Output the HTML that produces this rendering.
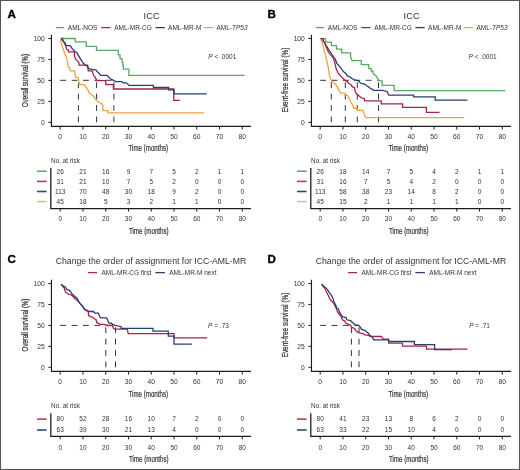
<!DOCTYPE html>
<html><head><meta charset="utf-8"><title>Figure</title>
<style>
html,body{margin:0;padding:0;background:#fff;}
body{width:520px;height:470px;overflow:hidden;position:relative;}
.frame{position:absolute;left:0;top:0;width:520px;height:470px;box-sizing:border-box;border:1px solid #555;}
svg{display:block;font-family:"Liberation Sans", sans-serif;filter:blur(0.3px);}
</style></head>
<body>
<svg width="520" height="470" viewBox="0 0 520 470">
<rect x="0" y="0" width="520" height="470" fill="#fff"/>
<g transform="translate(0,0)">
<text x="7.45" y="17.6" font-size="11.6" font-weight="bold" fill="#000" stroke="#000" stroke-width="0.35">A</text>
<text x="151.7" y="18.75" font-size="9.4" text-anchor="middle" fill="#333">ICC</text>
<line x1="55.8" y1="27.6" x2="64.0" y2="27.6" stroke="#5aa862" stroke-width="1.3"/>
<text x="67.8" y="29.9" font-size="6.5" fill="#333">AML-NOS</text>
<line x1="101.3" y1="27.6" x2="110.4" y2="27.6" stroke="#a82345" stroke-width="1.3"/>
<text x="114.2" y="29.9" font-size="6.5" fill="#333">AML-MR-CG</text>
<line x1="155.4" y1="27.6" x2="164.7" y2="27.6" stroke="#2a3f70" stroke-width="1.3"/>
<text x="168.1" y="29.9" font-size="6.5" fill="#333">AML-MR-M</text>
<line x1="203.8" y1="27.6" x2="213.1" y2="27.6" stroke="#e9a446" stroke-width="1.3"/>
<text x="216.5" y="29.9" font-size="6.5" fill="#333">AML-<tspan font-style="italic">TP53</tspan></text>
<path d="M51.45 34.8 V126.4 H251.1" fill="none" stroke="#1e1e1e" stroke-width="1.15"/>
<line x1="48.3" y1="38.50" x2="51.4" y2="38.50" stroke="#1e1e1e" stroke-width="1"/>
<text x="44.80" y="40.90" font-size="6.7" text-anchor="end" fill="#333">100</text>
<line x1="48.3" y1="59.45" x2="51.4" y2="59.45" stroke="#1e1e1e" stroke-width="1"/>
<text x="44.80" y="61.85" font-size="6.7" text-anchor="end" fill="#333">75</text>
<line x1="48.3" y1="80.40" x2="51.4" y2="80.40" stroke="#1e1e1e" stroke-width="1"/>
<text x="44.80" y="82.80" font-size="6.7" text-anchor="end" fill="#333">50</text>
<line x1="48.3" y1="101.35" x2="51.4" y2="101.35" stroke="#1e1e1e" stroke-width="1"/>
<text x="44.80" y="103.75" font-size="6.7" text-anchor="end" fill="#333">25</text>
<line x1="48.3" y1="122.30" x2="51.4" y2="122.30" stroke="#1e1e1e" stroke-width="1"/>
<text x="44.80" y="124.70" font-size="6.7" text-anchor="end" fill="#333">0</text>
<line x1="60.20" y1="126.4" x2="60.20" y2="129.6" stroke="#1e1e1e" stroke-width="1"/>
<text x="60.20" y="138.80" font-size="6.7" text-anchor="middle" fill="#333">0</text>
<line x1="82.96" y1="126.4" x2="82.96" y2="129.6" stroke="#1e1e1e" stroke-width="1"/>
<text x="82.96" y="138.80" font-size="6.7" text-anchor="middle" fill="#333">10</text>
<line x1="105.72" y1="126.4" x2="105.72" y2="129.6" stroke="#1e1e1e" stroke-width="1"/>
<text x="105.72" y="138.80" font-size="6.7" text-anchor="middle" fill="#333">20</text>
<line x1="128.48" y1="126.4" x2="128.48" y2="129.6" stroke="#1e1e1e" stroke-width="1"/>
<text x="128.48" y="138.80" font-size="6.7" text-anchor="middle" fill="#333">30</text>
<line x1="151.24" y1="126.4" x2="151.24" y2="129.6" stroke="#1e1e1e" stroke-width="1"/>
<text x="151.24" y="138.80" font-size="6.7" text-anchor="middle" fill="#333">40</text>
<line x1="174.00" y1="126.4" x2="174.00" y2="129.6" stroke="#1e1e1e" stroke-width="1"/>
<text x="174.00" y="138.80" font-size="6.7" text-anchor="middle" fill="#333">50</text>
<line x1="196.76" y1="126.4" x2="196.76" y2="129.6" stroke="#1e1e1e" stroke-width="1"/>
<text x="196.76" y="138.80" font-size="6.7" text-anchor="middle" fill="#333">60</text>
<line x1="219.52" y1="126.4" x2="219.52" y2="129.6" stroke="#1e1e1e" stroke-width="1"/>
<text x="219.52" y="138.80" font-size="6.7" text-anchor="middle" fill="#333">70</text>
<line x1="242.28" y1="126.4" x2="242.28" y2="129.6" stroke="#1e1e1e" stroke-width="1"/>
<text x="242.28" y="138.80" font-size="6.7" text-anchor="middle" fill="#333">80</text>
<text x="148.3" y="151.4" font-size="8.6" text-anchor="middle" textLength="39.5" lengthAdjust="spacingAndGlyphs" fill="#333" stroke="#333" stroke-width="0.2">Time (months)</text>
<text transform="translate(27.8,80.5) rotate(-90)" x="0" y="0" font-size="8.2" text-anchor="middle" textLength="53" lengthAdjust="spacingAndGlyphs" fill="#333" stroke="#333" stroke-width="0.22">Overall survival (%)</text>
<text x="208.3" y="58.5" font-size="6.5" fill="#333"><tspan font-style="italic">P</tspan> &lt; .0001</text>
<path d="M60.2 80.3 H113.9" fill="none" stroke="#333" stroke-width="1" stroke-dasharray="5.8 5.6"/>
<path d="M78.4 122.3 V80.3" fill="none" stroke="#333" stroke-width="1" stroke-dasharray="5.8 5.6"/>
<path d="M96.6 122.3 V80.3" fill="none" stroke="#333" stroke-width="1" stroke-dasharray="5.8 5.6"/>
<path d="M113.9 122.3 V80.3" fill="none" stroke="#333" stroke-width="1" stroke-dasharray="5.8 5.6"/>
<path d="M61.3 38.5 H75.3 V41.9 H86.2 V46.3 H96.5 V50.4 H118.3 V54.8 H120 V58.6 H122.1 V62 H122.8 V65.6 H123.4 V69.2 H128.9 V75.3 H244.6" fill="none" stroke="#5aa862" stroke-width="1.3" stroke-linejoin="miter"/>
<path d="M61.3 38.5 L63.5 41.5 L65.7 45.7 L66.7 49.3 L68 49.6 L68.6 51.8 H74.4 V55.3 L75 57.5 L75.6 59.1 L76.9 60.4 L78.2 62 L79.1 62.7 V65.2 H87.6 L88.2 70.8 H92.3 L93 73.4 L93.9 76 L95.2 77.2 L96.2 79.1 L96.5 80.7 H105.7 V84.6 H113.4 V89 H173.8 V100.3 H179.8" fill="none" stroke="#a82345" stroke-width="1.3" stroke-linejoin="miter"/>
<path d="M61.3 38.5 H62.6 V40.6 L64.8 42.6 L66.1 45.7 H70.2 L72.4 48.9 L75.3 51.8 L76.9 52.8 L79.1 56.6 L81.4 60.4 L83.3 63.3 L85.5 65.2 L87.6 66.4 L88.8 68.6 L92 69.3 L95.8 69.9 L97.4 71.8 L99.4 73.7 L100.6 75.3 H107 L108.9 77.2 L110.2 78.8 L112.6 79.9 L115.7 81.6 H121.5 L123.5 82.8 H126.4 L129.2 85.4 H153.4 V87.5 H168.6 V89.8 H174 V93.9 H206.7" fill="none" stroke="#2a3f70" stroke-width="1.3" stroke-linejoin="miter"/>
<path d="M60.6 38.5 V42 L61.6 43.2 L62.9 48.3 L64.5 52.8 L66.4 56.6 L67.3 61.1 L68.1 66.8 L69.7 67.7 L70.3 70.9 H74.8 L75.4 77 L78 77.6 L78.9 80.5 L79.2 84.7 H84.3 L86 87 L87.9 89.8 L89.2 93 L92.4 94.9 L94.6 97.8 L96.2 100 L97.8 101.6 L100.7 103.2 L102.6 104.5 L103.2 110.7 H107.9 V112.9 H204.2" fill="none" stroke="#e9a446" stroke-width="1.3" stroke-linejoin="miter"/>
<text x="51.1" y="162.5" font-size="6.4" fill="#333">No. at risk</text>
<path d="M50.8 168 V208.6 H251" fill="none" stroke="#1e1e1e" stroke-width="1.3"/>
<line x1="37" y1="171.20" x2="46.6" y2="171.20" stroke="#6ba76b" stroke-width="1.6"/>
<text x="60.20" y="173.50" font-size="6.5" text-anchor="middle" fill="#333">26</text>
<text x="82.96" y="173.50" font-size="6.5" text-anchor="middle" fill="#333">21</text>
<text x="105.72" y="173.50" font-size="6.5" text-anchor="middle" fill="#333">16</text>
<text x="128.48" y="173.50" font-size="6.5" text-anchor="middle" fill="#333">9</text>
<text x="151.24" y="173.50" font-size="6.5" text-anchor="middle" fill="#333">7</text>
<text x="174.00" y="173.50" font-size="6.5" text-anchor="middle" fill="#333">5</text>
<text x="196.76" y="173.50" font-size="6.5" text-anchor="middle" fill="#333">2</text>
<text x="219.52" y="173.50" font-size="6.5" text-anchor="middle" fill="#333">1</text>
<text x="242.28" y="173.50" font-size="6.5" text-anchor="middle" fill="#333">1</text>
<line x1="37" y1="181.40" x2="46.6" y2="181.40" stroke="#b0405c" stroke-width="1.6"/>
<text x="60.20" y="183.70" font-size="6.5" text-anchor="middle" fill="#333">31</text>
<text x="82.96" y="183.70" font-size="6.5" text-anchor="middle" fill="#333">21</text>
<text x="105.72" y="183.70" font-size="6.5" text-anchor="middle" fill="#333">10</text>
<text x="128.48" y="183.70" font-size="6.5" text-anchor="middle" fill="#333">7</text>
<text x="151.24" y="183.70" font-size="6.5" text-anchor="middle" fill="#333">5</text>
<text x="174.00" y="183.70" font-size="6.5" text-anchor="middle" fill="#333">2</text>
<text x="196.76" y="183.70" font-size="6.5" text-anchor="middle" fill="#333">0</text>
<text x="219.52" y="183.70" font-size="6.5" text-anchor="middle" fill="#333">0</text>
<text x="242.28" y="183.70" font-size="6.5" text-anchor="middle" fill="#333">0</text>
<line x1="37" y1="191.50" x2="46.6" y2="191.50" stroke="#2e4a72" stroke-width="1.6"/>
<text x="60.20" y="193.80" font-size="6.5" text-anchor="middle" fill="#333">113</text>
<text x="82.96" y="193.80" font-size="6.5" text-anchor="middle" fill="#333">70</text>
<text x="105.72" y="193.80" font-size="6.5" text-anchor="middle" fill="#333">48</text>
<text x="128.48" y="193.80" font-size="6.5" text-anchor="middle" fill="#333">30</text>
<text x="151.24" y="193.80" font-size="6.5" text-anchor="middle" fill="#333">18</text>
<text x="174.00" y="193.80" font-size="6.5" text-anchor="middle" fill="#333">9</text>
<text x="196.76" y="193.80" font-size="6.5" text-anchor="middle" fill="#333">2</text>
<text x="219.52" y="193.80" font-size="6.5" text-anchor="middle" fill="#333">0</text>
<text x="242.28" y="193.80" font-size="6.5" text-anchor="middle" fill="#333">0</text>
<line x1="37" y1="201.60" x2="46.6" y2="201.60" stroke="#e6bb86" stroke-width="1.6"/>
<text x="60.20" y="203.90" font-size="6.5" text-anchor="middle" fill="#333">45</text>
<text x="82.96" y="203.90" font-size="6.5" text-anchor="middle" fill="#333">18</text>
<text x="105.72" y="203.90" font-size="6.5" text-anchor="middle" fill="#333">5</text>
<text x="128.48" y="203.90" font-size="6.5" text-anchor="middle" fill="#333">3</text>
<text x="151.24" y="203.90" font-size="6.5" text-anchor="middle" fill="#333">2</text>
<text x="174.00" y="203.90" font-size="6.5" text-anchor="middle" fill="#333">1</text>
<text x="196.76" y="203.90" font-size="6.5" text-anchor="middle" fill="#333">1</text>
<text x="219.52" y="203.90" font-size="6.5" text-anchor="middle" fill="#333">0</text>
<text x="242.28" y="203.90" font-size="6.5" text-anchor="middle" fill="#333">0</text>
<line x1="60.20" y1="208.6" x2="60.20" y2="211.60" stroke="#1e1e1e" stroke-width="1"/>
<text x="60.20" y="221.10" font-size="6.5" text-anchor="middle" fill="#333">0</text>
<line x1="82.96" y1="208.6" x2="82.96" y2="211.60" stroke="#1e1e1e" stroke-width="1"/>
<text x="82.96" y="221.10" font-size="6.5" text-anchor="middle" fill="#333">10</text>
<line x1="105.72" y1="208.6" x2="105.72" y2="211.60" stroke="#1e1e1e" stroke-width="1"/>
<text x="105.72" y="221.10" font-size="6.5" text-anchor="middle" fill="#333">20</text>
<line x1="128.48" y1="208.6" x2="128.48" y2="211.60" stroke="#1e1e1e" stroke-width="1"/>
<text x="128.48" y="221.10" font-size="6.5" text-anchor="middle" fill="#333">30</text>
<line x1="151.24" y1="208.6" x2="151.24" y2="211.60" stroke="#1e1e1e" stroke-width="1"/>
<text x="151.24" y="221.10" font-size="6.5" text-anchor="middle" fill="#333">40</text>
<line x1="174.00" y1="208.6" x2="174.00" y2="211.60" stroke="#1e1e1e" stroke-width="1"/>
<text x="174.00" y="221.10" font-size="6.5" text-anchor="middle" fill="#333">50</text>
<line x1="196.76" y1="208.6" x2="196.76" y2="211.60" stroke="#1e1e1e" stroke-width="1"/>
<text x="196.76" y="221.10" font-size="6.5" text-anchor="middle" fill="#333">60</text>
<line x1="219.52" y1="208.6" x2="219.52" y2="211.60" stroke="#1e1e1e" stroke-width="1"/>
<text x="219.52" y="221.10" font-size="6.5" text-anchor="middle" fill="#333">70</text>
<line x1="242.28" y1="208.6" x2="242.28" y2="211.60" stroke="#1e1e1e" stroke-width="1"/>
<text x="242.28" y="221.10" font-size="6.5" text-anchor="middle" fill="#333">80</text>
<text x="148.8" y="233.9" font-size="8.6" text-anchor="middle" textLength="39.8" lengthAdjust="spacingAndGlyphs" fill="#333" stroke="#333" stroke-width="0.2">Time (months)</text>
</g>
<g transform="translate(260,0)">
<text x="7.45" y="17.6" font-size="11.6" font-weight="bold" fill="#000" stroke="#000" stroke-width="0.35">B</text>
<text x="151.7" y="18.75" font-size="9.4" text-anchor="middle" fill="#333">ICC</text>
<line x1="55.8" y1="27.6" x2="64.0" y2="27.6" stroke="#5aa862" stroke-width="1.3"/>
<text x="67.8" y="29.9" font-size="6.5" fill="#333">AML-NOS</text>
<line x1="101.3" y1="27.6" x2="110.4" y2="27.6" stroke="#a82345" stroke-width="1.3"/>
<text x="114.2" y="29.9" font-size="6.5" fill="#333">AML-MR-CG</text>
<line x1="155.4" y1="27.6" x2="164.7" y2="27.6" stroke="#2a3f70" stroke-width="1.3"/>
<text x="168.1" y="29.9" font-size="6.5" fill="#333">AML-MR-M</text>
<line x1="203.8" y1="27.6" x2="213.1" y2="27.6" stroke="#e9a446" stroke-width="1.3"/>
<text x="216.5" y="29.9" font-size="6.5" fill="#333">AML-<tspan font-style="italic">TP53</tspan></text>
<path d="M51.45 34.8 V126.4 H251.1" fill="none" stroke="#1e1e1e" stroke-width="1.15"/>
<line x1="48.3" y1="38.50" x2="51.4" y2="38.50" stroke="#1e1e1e" stroke-width="1"/>
<text x="44.80" y="40.90" font-size="6.7" text-anchor="end" fill="#333">100</text>
<line x1="48.3" y1="59.45" x2="51.4" y2="59.45" stroke="#1e1e1e" stroke-width="1"/>
<text x="44.80" y="61.85" font-size="6.7" text-anchor="end" fill="#333">75</text>
<line x1="48.3" y1="80.40" x2="51.4" y2="80.40" stroke="#1e1e1e" stroke-width="1"/>
<text x="44.80" y="82.80" font-size="6.7" text-anchor="end" fill="#333">50</text>
<line x1="48.3" y1="101.35" x2="51.4" y2="101.35" stroke="#1e1e1e" stroke-width="1"/>
<text x="44.80" y="103.75" font-size="6.7" text-anchor="end" fill="#333">25</text>
<line x1="48.3" y1="122.30" x2="51.4" y2="122.30" stroke="#1e1e1e" stroke-width="1"/>
<text x="44.80" y="124.70" font-size="6.7" text-anchor="end" fill="#333">0</text>
<line x1="60.20" y1="126.4" x2="60.20" y2="129.6" stroke="#1e1e1e" stroke-width="1"/>
<text x="60.20" y="138.80" font-size="6.7" text-anchor="middle" fill="#333">0</text>
<line x1="82.96" y1="126.4" x2="82.96" y2="129.6" stroke="#1e1e1e" stroke-width="1"/>
<text x="82.96" y="138.80" font-size="6.7" text-anchor="middle" fill="#333">10</text>
<line x1="105.72" y1="126.4" x2="105.72" y2="129.6" stroke="#1e1e1e" stroke-width="1"/>
<text x="105.72" y="138.80" font-size="6.7" text-anchor="middle" fill="#333">20</text>
<line x1="128.48" y1="126.4" x2="128.48" y2="129.6" stroke="#1e1e1e" stroke-width="1"/>
<text x="128.48" y="138.80" font-size="6.7" text-anchor="middle" fill="#333">30</text>
<line x1="151.24" y1="126.4" x2="151.24" y2="129.6" stroke="#1e1e1e" stroke-width="1"/>
<text x="151.24" y="138.80" font-size="6.7" text-anchor="middle" fill="#333">40</text>
<line x1="174.00" y1="126.4" x2="174.00" y2="129.6" stroke="#1e1e1e" stroke-width="1"/>
<text x="174.00" y="138.80" font-size="6.7" text-anchor="middle" fill="#333">50</text>
<line x1="196.76" y1="126.4" x2="196.76" y2="129.6" stroke="#1e1e1e" stroke-width="1"/>
<text x="196.76" y="138.80" font-size="6.7" text-anchor="middle" fill="#333">60</text>
<line x1="219.52" y1="126.4" x2="219.52" y2="129.6" stroke="#1e1e1e" stroke-width="1"/>
<text x="219.52" y="138.80" font-size="6.7" text-anchor="middle" fill="#333">70</text>
<line x1="242.28" y1="126.4" x2="242.28" y2="129.6" stroke="#1e1e1e" stroke-width="1"/>
<text x="242.28" y="138.80" font-size="6.7" text-anchor="middle" fill="#333">80</text>
<text x="148.3" y="151.4" font-size="8.6" text-anchor="middle" textLength="39.5" lengthAdjust="spacingAndGlyphs" fill="#333" stroke="#333" stroke-width="0.2">Time (months)</text>
<text transform="translate(27.9,80.0) rotate(-90)" x="0" y="0" font-size="8.2" text-anchor="middle" textLength="64.7" lengthAdjust="spacingAndGlyphs" fill="#333" stroke="#333" stroke-width="0.22">Event-free survival (%)</text>
<text x="208.6" y="58.5" font-size="6.5" fill="#333"><tspan font-style="italic">P</tspan> &lt; .0001</text>
<path d="M60.2 80.3 H118.5" fill="none" stroke="#333" stroke-width="1" stroke-dasharray="5.8 5.6"/>
<path d="M71.3 122.3 V80.3" fill="none" stroke="#333" stroke-width="1" stroke-dasharray="5.8 5.6"/>
<path d="M85.3 122.3 V80.3" fill="none" stroke="#333" stroke-width="1" stroke-dasharray="5.8 5.6"/>
<path d="M97.3 122.3 V80.3" fill="none" stroke="#333" stroke-width="1" stroke-dasharray="5.8 5.6"/>
<path d="M118.5 122.3 V80.3" fill="none" stroke="#333" stroke-width="1" stroke-dasharray="5.8 5.6"/>
<path d="M60.5 38.6 H65.5 V42.1 H71.4 V45.6 H76.5 V49.1 H81.7 V52.8 H90.6 V57.1 L92.1 60.6 H101.3 V64.6 H108.8 V68.7 H111.2 V71 H112.9 V73.3 L116.3 76.2 L117.5 78.5 L119.2 80.8 H122.1 V85.4 H134.2 V90.7 H245.2" fill="none" stroke="#5aa862" stroke-width="1.3" stroke-linejoin="miter"/>
<path d="M60.5 38.6 H63 L63.4 41.1 L66 45 L69 50 L72 54.5 L75.5 59.5 L76.7 63.2 L79.6 66.4 L81.9 69.6 L84 72.1 L86 73.7 L87.2 76 L89.4 76.6 L92 78.5 L94.4 79.9 L98.2 80.5 L100.1 82.8 L101.4 83.4 L104.6 84 L107.1 86 L109.1 87.2 L110.3 88.5 L112.3 89.1 L113.5 90.4 H122.7 L127.3 91.7 L128.7 95.2 H153.6 V96.9 H175.2 V100.2 H207.5" fill="none" stroke="#2a3f70" stroke-width="1.3" stroke-linejoin="miter"/>
<path d="M60.5 38.6 L62 40 L64.4 42.4 L66.9 48.8 L68.8 52.6 L70.8 55.1 L72.7 57.1 L74.6 61.5 L75.2 64.5 L76 68.3 L77.2 71 L78 72.8 L79.6 74.7 L80.7 76.2 L82 77.2 L83.3 78.8 L85 80.4 L86.9 81.1 L88.2 83 L90.1 84.3 L91.5 85.3 L92.5 86.9 L94.4 87.5 L95.3 91.7 L96.3 93.9 L98.2 95.2 L100.1 96.8 L102 98.1 L104.3 98.4 L104.6 100.9 H121.2 V103.9 H142.6 V107.3 H166.4 V112.4 H179.5" fill="none" stroke="#a82345" stroke-width="1.3" stroke-linejoin="miter"/>
<path d="M60.5 38.6 V39.5 L61.2 39.5 L63.1 45.6 L64.4 52 L66 57.1 L67.3 62.8 L68.4 68.3 L69.3 74.7 L70.6 79.1 L71.6 81.1 L74.4 83 L76.5 85.5 L77.6 87.6 L79.4 91.3 L80.9 93.2 H84.7 L86.3 95.1 L88.2 95.9 L90.1 100.8 L92.4 104.7 L93.9 108.5 H97 L97.7 110.4 H103.1 L104.2 114.6 L105.4 116.9 L106 117.6 H204.3" fill="none" stroke="#e9a446" stroke-width="1.3" stroke-linejoin="miter"/>
<text x="51.1" y="162.5" font-size="6.4" fill="#333">No. at risk</text>
<path d="M50.8 168 V208.6 H251" fill="none" stroke="#1e1e1e" stroke-width="1.3"/>
<line x1="37" y1="171.20" x2="46.6" y2="171.20" stroke="#6ba76b" stroke-width="1.6"/>
<text x="60.20" y="173.50" font-size="6.5" text-anchor="middle" fill="#333">26</text>
<text x="82.96" y="173.50" font-size="6.5" text-anchor="middle" fill="#333">18</text>
<text x="105.72" y="173.50" font-size="6.5" text-anchor="middle" fill="#333">14</text>
<text x="128.48" y="173.50" font-size="6.5" text-anchor="middle" fill="#333">7</text>
<text x="151.24" y="173.50" font-size="6.5" text-anchor="middle" fill="#333">5</text>
<text x="174.00" y="173.50" font-size="6.5" text-anchor="middle" fill="#333">4</text>
<text x="196.76" y="173.50" font-size="6.5" text-anchor="middle" fill="#333">2</text>
<text x="219.52" y="173.50" font-size="6.5" text-anchor="middle" fill="#333">1</text>
<text x="242.28" y="173.50" font-size="6.5" text-anchor="middle" fill="#333">1</text>
<line x1="37" y1="181.40" x2="46.6" y2="181.40" stroke="#b0405c" stroke-width="1.6"/>
<text x="60.20" y="183.70" font-size="6.5" text-anchor="middle" fill="#333">31</text>
<text x="82.96" y="183.70" font-size="6.5" text-anchor="middle" fill="#333">16</text>
<text x="105.72" y="183.70" font-size="6.5" text-anchor="middle" fill="#333">7</text>
<text x="128.48" y="183.70" font-size="6.5" text-anchor="middle" fill="#333">5</text>
<text x="151.24" y="183.70" font-size="6.5" text-anchor="middle" fill="#333">4</text>
<text x="174.00" y="183.70" font-size="6.5" text-anchor="middle" fill="#333">2</text>
<text x="196.76" y="183.70" font-size="6.5" text-anchor="middle" fill="#333">0</text>
<text x="219.52" y="183.70" font-size="6.5" text-anchor="middle" fill="#333">0</text>
<text x="242.28" y="183.70" font-size="6.5" text-anchor="middle" fill="#333">0</text>
<line x1="37" y1="191.50" x2="46.6" y2="191.50" stroke="#2e4a72" stroke-width="1.6"/>
<text x="60.20" y="193.80" font-size="6.5" text-anchor="middle" fill="#333">113</text>
<text x="82.96" y="193.80" font-size="6.5" text-anchor="middle" fill="#333">58</text>
<text x="105.72" y="193.80" font-size="6.5" text-anchor="middle" fill="#333">38</text>
<text x="128.48" y="193.80" font-size="6.5" text-anchor="middle" fill="#333">23</text>
<text x="151.24" y="193.80" font-size="6.5" text-anchor="middle" fill="#333">14</text>
<text x="174.00" y="193.80" font-size="6.5" text-anchor="middle" fill="#333">8</text>
<text x="196.76" y="193.80" font-size="6.5" text-anchor="middle" fill="#333">2</text>
<text x="219.52" y="193.80" font-size="6.5" text-anchor="middle" fill="#333">0</text>
<text x="242.28" y="193.80" font-size="6.5" text-anchor="middle" fill="#333">0</text>
<line x1="37" y1="201.60" x2="46.6" y2="201.60" stroke="#e6bb86" stroke-width="1.6"/>
<text x="60.20" y="203.90" font-size="6.5" text-anchor="middle" fill="#333">45</text>
<text x="82.96" y="203.90" font-size="6.5" text-anchor="middle" fill="#333">15</text>
<text x="105.72" y="203.90" font-size="6.5" text-anchor="middle" fill="#333">2</text>
<text x="128.48" y="203.90" font-size="6.5" text-anchor="middle" fill="#333">1</text>
<text x="151.24" y="203.90" font-size="6.5" text-anchor="middle" fill="#333">1</text>
<text x="174.00" y="203.90" font-size="6.5" text-anchor="middle" fill="#333">1</text>
<text x="196.76" y="203.90" font-size="6.5" text-anchor="middle" fill="#333">1</text>
<text x="219.52" y="203.90" font-size="6.5" text-anchor="middle" fill="#333">0</text>
<text x="242.28" y="203.90" font-size="6.5" text-anchor="middle" fill="#333">0</text>
<line x1="60.20" y1="208.6" x2="60.20" y2="211.60" stroke="#1e1e1e" stroke-width="1"/>
<text x="60.20" y="221.10" font-size="6.5" text-anchor="middle" fill="#333">0</text>
<line x1="82.96" y1="208.6" x2="82.96" y2="211.60" stroke="#1e1e1e" stroke-width="1"/>
<text x="82.96" y="221.10" font-size="6.5" text-anchor="middle" fill="#333">10</text>
<line x1="105.72" y1="208.6" x2="105.72" y2="211.60" stroke="#1e1e1e" stroke-width="1"/>
<text x="105.72" y="221.10" font-size="6.5" text-anchor="middle" fill="#333">20</text>
<line x1="128.48" y1="208.6" x2="128.48" y2="211.60" stroke="#1e1e1e" stroke-width="1"/>
<text x="128.48" y="221.10" font-size="6.5" text-anchor="middle" fill="#333">30</text>
<line x1="151.24" y1="208.6" x2="151.24" y2="211.60" stroke="#1e1e1e" stroke-width="1"/>
<text x="151.24" y="221.10" font-size="6.5" text-anchor="middle" fill="#333">40</text>
<line x1="174.00" y1="208.6" x2="174.00" y2="211.60" stroke="#1e1e1e" stroke-width="1"/>
<text x="174.00" y="221.10" font-size="6.5" text-anchor="middle" fill="#333">50</text>
<line x1="196.76" y1="208.6" x2="196.76" y2="211.60" stroke="#1e1e1e" stroke-width="1"/>
<text x="196.76" y="221.10" font-size="6.5" text-anchor="middle" fill="#333">60</text>
<line x1="219.52" y1="208.6" x2="219.52" y2="211.60" stroke="#1e1e1e" stroke-width="1"/>
<text x="219.52" y="221.10" font-size="6.5" text-anchor="middle" fill="#333">70</text>
<line x1="242.28" y1="208.6" x2="242.28" y2="211.60" stroke="#1e1e1e" stroke-width="1"/>
<text x="242.28" y="221.10" font-size="6.5" text-anchor="middle" fill="#333">80</text>
<text x="148.8" y="233.9" font-size="8.6" text-anchor="middle" textLength="39.8" lengthAdjust="spacingAndGlyphs" fill="#333" stroke="#333" stroke-width="0.2">Time (months)</text>
</g>
<g transform="translate(0,245)">
<text x="7.45" y="17.6" font-size="11.6" font-weight="bold" fill="#000" stroke="#000" stroke-width="0.35">C</text>
<text x="151.0" y="18.75" font-size="9.4" text-anchor="middle" fill="#333" textLength="190.4" lengthAdjust="spacingAndGlyphs">Change the order of assignment for ICC-AML-MR</text>
<line x1="88.1" y1="27.6" x2="97.1" y2="27.6" stroke="#a82345" stroke-width="1.3"/>
<text x="101.5" y="29.9" font-size="6.5" fill="#333">AML-MR-CG first</text>
<line x1="155.4" y1="27.6" x2="165.0" y2="27.6" stroke="#2a3f70" stroke-width="1.3"/>
<text x="169.2" y="29.9" font-size="6.5" fill="#333">AML-MR-M next</text>
<path d="M51.45 34.8 V126.4 H251.1" fill="none" stroke="#1e1e1e" stroke-width="1.15"/>
<line x1="48.3" y1="38.50" x2="51.4" y2="38.50" stroke="#1e1e1e" stroke-width="1"/>
<text x="44.80" y="40.90" font-size="6.7" text-anchor="end" fill="#333">100</text>
<line x1="48.3" y1="59.45" x2="51.4" y2="59.45" stroke="#1e1e1e" stroke-width="1"/>
<text x="44.80" y="61.85" font-size="6.7" text-anchor="end" fill="#333">75</text>
<line x1="48.3" y1="80.40" x2="51.4" y2="80.40" stroke="#1e1e1e" stroke-width="1"/>
<text x="44.80" y="82.80" font-size="6.7" text-anchor="end" fill="#333">50</text>
<line x1="48.3" y1="101.35" x2="51.4" y2="101.35" stroke="#1e1e1e" stroke-width="1"/>
<text x="44.80" y="103.75" font-size="6.7" text-anchor="end" fill="#333">25</text>
<line x1="48.3" y1="122.30" x2="51.4" y2="122.30" stroke="#1e1e1e" stroke-width="1"/>
<text x="44.80" y="124.70" font-size="6.7" text-anchor="end" fill="#333">0</text>
<line x1="60.20" y1="126.4" x2="60.20" y2="129.6" stroke="#1e1e1e" stroke-width="1"/>
<text x="60.20" y="138.80" font-size="6.7" text-anchor="middle" fill="#333">0</text>
<line x1="82.96" y1="126.4" x2="82.96" y2="129.6" stroke="#1e1e1e" stroke-width="1"/>
<text x="82.96" y="138.80" font-size="6.7" text-anchor="middle" fill="#333">10</text>
<line x1="105.72" y1="126.4" x2="105.72" y2="129.6" stroke="#1e1e1e" stroke-width="1"/>
<text x="105.72" y="138.80" font-size="6.7" text-anchor="middle" fill="#333">20</text>
<line x1="128.48" y1="126.4" x2="128.48" y2="129.6" stroke="#1e1e1e" stroke-width="1"/>
<text x="128.48" y="138.80" font-size="6.7" text-anchor="middle" fill="#333">30</text>
<line x1="151.24" y1="126.4" x2="151.24" y2="129.6" stroke="#1e1e1e" stroke-width="1"/>
<text x="151.24" y="138.80" font-size="6.7" text-anchor="middle" fill="#333">40</text>
<line x1="174.00" y1="126.4" x2="174.00" y2="129.6" stroke="#1e1e1e" stroke-width="1"/>
<text x="174.00" y="138.80" font-size="6.7" text-anchor="middle" fill="#333">50</text>
<line x1="196.76" y1="126.4" x2="196.76" y2="129.6" stroke="#1e1e1e" stroke-width="1"/>
<text x="196.76" y="138.80" font-size="6.7" text-anchor="middle" fill="#333">60</text>
<line x1="219.52" y1="126.4" x2="219.52" y2="129.6" stroke="#1e1e1e" stroke-width="1"/>
<text x="219.52" y="138.80" font-size="6.7" text-anchor="middle" fill="#333">70</text>
<line x1="242.28" y1="126.4" x2="242.28" y2="129.6" stroke="#1e1e1e" stroke-width="1"/>
<text x="242.28" y="138.80" font-size="6.7" text-anchor="middle" fill="#333">80</text>
<text x="148.3" y="151.9" font-size="8.6" text-anchor="middle" textLength="39.5" lengthAdjust="spacingAndGlyphs" fill="#333" stroke="#333" stroke-width="0.2">Time (months)</text>
<text transform="translate(27.7,80.1) rotate(-90)" x="0" y="0" font-size="8.2" text-anchor="middle" textLength="53" lengthAdjust="spacingAndGlyphs" fill="#333" stroke="#333" stroke-width="0.22">Overall survival (%)</text>
<text x="208.1" y="82.9" font-size="6.5" fill="#333"><tspan font-style="italic">P</tspan> = .73</text>
<path d="M 60.20 80.40 H 115.50" fill="none" stroke="#333" stroke-width="1" stroke-dasharray="5.8 5.6"/>
<path d="M 105.80 122.30 V 80.40" fill="none" stroke="#333" stroke-width="1" stroke-dasharray="5.8 5.6"/>
<path d="M 115.50 122.30 V 80.40" fill="none" stroke="#333" stroke-width="1" stroke-dasharray="5.8 5.6"/>
<path d="M 61.00 39.30 L 64.40 43.30 L 65.30 46.80 L 66.90 48.10 L 68.50 49.40 L 70.80 49.70 L 72.70 51.00 L 74.60 53.50 L 76.50 54.80 L 78.40 56.50 L 80.30 58.80 L 82.60 61.60 L 85.80 65.50 L 88.10 66.50 L 88.70 70.30 L 90.30 71.60 L 92.20 71.90 L 93.80 73.50 L 96.00 74.50 L 96.70 77.70 L 98.60 78.30 L 100.50 79.30 H 104.30 L 106.60 80.20 L 107.20 80.50 H 112.30 L 113.60 83.60 L 114.80 84.20 H 127.30 L 128.20 88.60 H 174.00 V 92.90 H 207.10" fill="none" stroke="#a82345" stroke-width="1.3" stroke-linejoin="miter"/>
<path d="M 61.00 39.30 L 63.40 41.10 L 65.30 42.00 L 66.90 44.60 L 69.20 45.20 L 70.80 46.80 L 71.70 48.70 L 73.30 50.00 L 75.20 51.90 L 77.10 53.20 L 78.40 56.10 L 80.30 58.60 L 82.60 61.20 L 84.60 64.60 L 87.70 65.50 L 88.70 66.50 H 93.50 L 94.80 68.10 H 98.30 L 99.20 70.60 L 100.50 72.90 H 106.60 L 108.10 75.90 L 108.80 78.20 H 111.30 L 112.60 79.40 L 115.20 80.40 L 121.20 81.70 V 83.40 H 153.00 V 86.20 H 168.30 V 91.20 H 174.00 V 99.20 H 191.90" fill="none" stroke="#2a3f70" stroke-width="1.3" stroke-linejoin="miter"/>
<text x="51.1" y="162.5" font-size="6.4" fill="#333">No. at risk</text>
<path d="M50.8 168.2 V191.4 H251" fill="none" stroke="#1e1e1e" stroke-width="1.3"/>
<line x1="37" y1="174.10" x2="46.6" y2="174.10" stroke="#b0405c" stroke-width="1.6"/>
<text x="60.20" y="176.40" font-size="6.5" text-anchor="middle" fill="#333">80</text>
<text x="82.96" y="176.40" font-size="6.5" text-anchor="middle" fill="#333">52</text>
<text x="105.72" y="176.40" font-size="6.5" text-anchor="middle" fill="#333">28</text>
<text x="128.48" y="176.40" font-size="6.5" text-anchor="middle" fill="#333">16</text>
<text x="151.24" y="176.40" font-size="6.5" text-anchor="middle" fill="#333">10</text>
<text x="174.00" y="176.40" font-size="6.5" text-anchor="middle" fill="#333">7</text>
<text x="196.76" y="176.40" font-size="6.5" text-anchor="middle" fill="#333">2</text>
<text x="219.52" y="176.40" font-size="6.5" text-anchor="middle" fill="#333">0</text>
<text x="242.28" y="176.40" font-size="6.5" text-anchor="middle" fill="#333">0</text>
<line x1="37" y1="185.00" x2="46.6" y2="185.00" stroke="#2e4a72" stroke-width="1.6"/>
<text x="60.20" y="187.30" font-size="6.5" text-anchor="middle" fill="#333">63</text>
<text x="82.96" y="187.30" font-size="6.5" text-anchor="middle" fill="#333">39</text>
<text x="105.72" y="187.30" font-size="6.5" text-anchor="middle" fill="#333">30</text>
<text x="128.48" y="187.30" font-size="6.5" text-anchor="middle" fill="#333">21</text>
<text x="151.24" y="187.30" font-size="6.5" text-anchor="middle" fill="#333">13</text>
<text x="174.00" y="187.30" font-size="6.5" text-anchor="middle" fill="#333">4</text>
<text x="196.76" y="187.30" font-size="6.5" text-anchor="middle" fill="#333">0</text>
<text x="219.52" y="187.30" font-size="6.5" text-anchor="middle" fill="#333">0</text>
<text x="242.28" y="187.30" font-size="6.5" text-anchor="middle" fill="#333">0</text>
<line x1="60.20" y1="191.4" x2="60.20" y2="194.40" stroke="#1e1e1e" stroke-width="1"/>
<text x="60.20" y="204.60" font-size="6.5" text-anchor="middle" fill="#333">0</text>
<line x1="82.96" y1="191.4" x2="82.96" y2="194.40" stroke="#1e1e1e" stroke-width="1"/>
<text x="82.96" y="204.60" font-size="6.5" text-anchor="middle" fill="#333">10</text>
<line x1="105.72" y1="191.4" x2="105.72" y2="194.40" stroke="#1e1e1e" stroke-width="1"/>
<text x="105.72" y="204.60" font-size="6.5" text-anchor="middle" fill="#333">20</text>
<line x1="128.48" y1="191.4" x2="128.48" y2="194.40" stroke="#1e1e1e" stroke-width="1"/>
<text x="128.48" y="204.60" font-size="6.5" text-anchor="middle" fill="#333">30</text>
<line x1="151.24" y1="191.4" x2="151.24" y2="194.40" stroke="#1e1e1e" stroke-width="1"/>
<text x="151.24" y="204.60" font-size="6.5" text-anchor="middle" fill="#333">40</text>
<line x1="174.00" y1="191.4" x2="174.00" y2="194.40" stroke="#1e1e1e" stroke-width="1"/>
<text x="174.00" y="204.60" font-size="6.5" text-anchor="middle" fill="#333">50</text>
<line x1="196.76" y1="191.4" x2="196.76" y2="194.40" stroke="#1e1e1e" stroke-width="1"/>
<text x="196.76" y="204.60" font-size="6.5" text-anchor="middle" fill="#333">60</text>
<line x1="219.52" y1="191.4" x2="219.52" y2="194.40" stroke="#1e1e1e" stroke-width="1"/>
<text x="219.52" y="204.60" font-size="6.5" text-anchor="middle" fill="#333">70</text>
<line x1="242.28" y1="191.4" x2="242.28" y2="194.40" stroke="#1e1e1e" stroke-width="1"/>
<text x="242.28" y="204.60" font-size="6.5" text-anchor="middle" fill="#333">80</text>
<text x="148.8" y="216.9" font-size="8.6" text-anchor="middle" textLength="39.8" lengthAdjust="spacingAndGlyphs" fill="#333" stroke="#333" stroke-width="0.2">Time (months)</text>
</g>
<g transform="translate(260,245)">
<text x="7.45" y="17.6" font-size="11.6" font-weight="bold" fill="#000" stroke="#000" stroke-width="0.35">D</text>
<text x="151.0" y="18.75" font-size="9.4" text-anchor="middle" fill="#333" textLength="190.4" lengthAdjust="spacingAndGlyphs">Change the order of assignment for ICC-AML-MR</text>
<line x1="88.1" y1="27.6" x2="97.1" y2="27.6" stroke="#a82345" stroke-width="1.3"/>
<text x="101.5" y="29.9" font-size="6.5" fill="#333">AML-MR-CG first</text>
<line x1="155.4" y1="27.6" x2="165.0" y2="27.6" stroke="#2a3f70" stroke-width="1.3"/>
<text x="169.2" y="29.9" font-size="6.5" fill="#333">AML-MR-M next</text>
<path d="M51.45 34.8 V126.4 H251.1" fill="none" stroke="#1e1e1e" stroke-width="1.15"/>
<line x1="48.3" y1="38.50" x2="51.4" y2="38.50" stroke="#1e1e1e" stroke-width="1"/>
<text x="44.80" y="40.90" font-size="6.7" text-anchor="end" fill="#333">100</text>
<line x1="48.3" y1="59.45" x2="51.4" y2="59.45" stroke="#1e1e1e" stroke-width="1"/>
<text x="44.80" y="61.85" font-size="6.7" text-anchor="end" fill="#333">75</text>
<line x1="48.3" y1="80.40" x2="51.4" y2="80.40" stroke="#1e1e1e" stroke-width="1"/>
<text x="44.80" y="82.80" font-size="6.7" text-anchor="end" fill="#333">50</text>
<line x1="48.3" y1="101.35" x2="51.4" y2="101.35" stroke="#1e1e1e" stroke-width="1"/>
<text x="44.80" y="103.75" font-size="6.7" text-anchor="end" fill="#333">25</text>
<line x1="48.3" y1="122.30" x2="51.4" y2="122.30" stroke="#1e1e1e" stroke-width="1"/>
<text x="44.80" y="124.70" font-size="6.7" text-anchor="end" fill="#333">0</text>
<line x1="60.20" y1="126.4" x2="60.20" y2="129.6" stroke="#1e1e1e" stroke-width="1"/>
<text x="60.20" y="138.80" font-size="6.7" text-anchor="middle" fill="#333">0</text>
<line x1="82.96" y1="126.4" x2="82.96" y2="129.6" stroke="#1e1e1e" stroke-width="1"/>
<text x="82.96" y="138.80" font-size="6.7" text-anchor="middle" fill="#333">10</text>
<line x1="105.72" y1="126.4" x2="105.72" y2="129.6" stroke="#1e1e1e" stroke-width="1"/>
<text x="105.72" y="138.80" font-size="6.7" text-anchor="middle" fill="#333">20</text>
<line x1="128.48" y1="126.4" x2="128.48" y2="129.6" stroke="#1e1e1e" stroke-width="1"/>
<text x="128.48" y="138.80" font-size="6.7" text-anchor="middle" fill="#333">30</text>
<line x1="151.24" y1="126.4" x2="151.24" y2="129.6" stroke="#1e1e1e" stroke-width="1"/>
<text x="151.24" y="138.80" font-size="6.7" text-anchor="middle" fill="#333">40</text>
<line x1="174.00" y1="126.4" x2="174.00" y2="129.6" stroke="#1e1e1e" stroke-width="1"/>
<text x="174.00" y="138.80" font-size="6.7" text-anchor="middle" fill="#333">50</text>
<line x1="196.76" y1="126.4" x2="196.76" y2="129.6" stroke="#1e1e1e" stroke-width="1"/>
<text x="196.76" y="138.80" font-size="6.7" text-anchor="middle" fill="#333">60</text>
<line x1="219.52" y1="126.4" x2="219.52" y2="129.6" stroke="#1e1e1e" stroke-width="1"/>
<text x="219.52" y="138.80" font-size="6.7" text-anchor="middle" fill="#333">70</text>
<line x1="242.28" y1="126.4" x2="242.28" y2="129.6" stroke="#1e1e1e" stroke-width="1"/>
<text x="242.28" y="138.80" font-size="6.7" text-anchor="middle" fill="#333">80</text>
<text x="148.3" y="151.9" font-size="8.6" text-anchor="middle" textLength="39.5" lengthAdjust="spacingAndGlyphs" fill="#333" stroke="#333" stroke-width="0.2">Time (months)</text>
<text transform="translate(27.9,80.0) rotate(-90)" x="0" y="0" font-size="8.2" text-anchor="middle" textLength="64.7" lengthAdjust="spacingAndGlyphs" fill="#333" stroke="#333" stroke-width="0.22">Event-free survival (%)</text>
<text x="209.2" y="82.9" font-size="6.5" fill="#333"><tspan font-style="italic">P</tspan> = .71</text>
<path d="M 60.20 80.40 H 99.00" fill="none" stroke="#333" stroke-width="1" stroke-dasharray="5.8 5.6"/>
<path d="M 91.40 122.30 V 80.40" fill="none" stroke="#333" stroke-width="1" stroke-dasharray="5.8 5.6"/>
<path d="M 99.00 122.30 V 80.40" fill="none" stroke="#333" stroke-width="1" stroke-dasharray="5.8 5.6"/>
<path d="M 61.50 39.10 L 65.00 43.80 L 66.90 47.80 L 68.50 51.00 L 70.00 54.20 L 72.00 56.50 L 73.90 58.60 L 75.60 62.00 L 76.80 65.00 L 77.90 67.50 L 79.10 69.00 L 81.00 71.00 L 82.30 74.80 L 84.80 76.10 L 86.10 78.30 L 88.70 79.30 L 90.60 80.20 L 91.90 82.40 L 94.60 83.40 L 95.80 85.60 L 97.70 87.20 L 100.30 88.20 L 103.50 88.80 L 104.80 89.80 L 108.60 90.40 L 110.50 91.50 H 121.40 L 123.30 94.20 H 128.70 V 98.10 H 142.50 V 101.20 H 166.50 V 104.20 H 207.40" fill="none" stroke="#a82345" stroke-width="1.3" stroke-linejoin="miter"/>
<path d="M 61.50 39.10 L 63.70 41.40 L 65.70 42.70 L 67.60 44.90 L 69.50 47.80 L 71.40 50.30 L 73.00 53.50 L 74.00 56.70 L 75.90 60.50 L 76.60 63.00 L 78.50 63.90 L 79.40 67.10 L 81.00 69.70 L 82.90 71.90 L 86.10 72.50 L 86.80 74.80 L 90.60 75.70 L 91.90 77.00 L 93.80 78.60 L 95.10 79.90 L 98.40 80.20 L 100.30 82.10 L 101.60 84.40 L 104.80 85.30 L 106.70 86.90 L 108.60 88.50 L 109.90 90.70 L 112.40 92.00 L 113.70 94.80 H 127.50 L 129.10 96.50 H 154.40 V 99.60 H 174.60 V 104.70 H 191.90" fill="none" stroke="#2a3f70" stroke-width="1.3" stroke-linejoin="miter"/>
<text x="51.1" y="162.5" font-size="6.4" fill="#333">No. at risk</text>
<path d="M50.8 168.2 V191.4 H251" fill="none" stroke="#1e1e1e" stroke-width="1.3"/>
<line x1="37" y1="174.10" x2="46.6" y2="174.10" stroke="#b0405c" stroke-width="1.6"/>
<text x="60.20" y="176.40" font-size="6.5" text-anchor="middle" fill="#333">80</text>
<text x="82.96" y="176.40" font-size="6.5" text-anchor="middle" fill="#333">41</text>
<text x="105.72" y="176.40" font-size="6.5" text-anchor="middle" fill="#333">23</text>
<text x="128.48" y="176.40" font-size="6.5" text-anchor="middle" fill="#333">13</text>
<text x="151.24" y="176.40" font-size="6.5" text-anchor="middle" fill="#333">8</text>
<text x="174.00" y="176.40" font-size="6.5" text-anchor="middle" fill="#333">6</text>
<text x="196.76" y="176.40" font-size="6.5" text-anchor="middle" fill="#333">2</text>
<text x="219.52" y="176.40" font-size="6.5" text-anchor="middle" fill="#333">0</text>
<text x="242.28" y="176.40" font-size="6.5" text-anchor="middle" fill="#333">0</text>
<line x1="37" y1="185.00" x2="46.6" y2="185.00" stroke="#2e4a72" stroke-width="1.6"/>
<text x="60.20" y="187.30" font-size="6.5" text-anchor="middle" fill="#333">63</text>
<text x="82.96" y="187.30" font-size="6.5" text-anchor="middle" fill="#333">33</text>
<text x="105.72" y="187.30" font-size="6.5" text-anchor="middle" fill="#333">22</text>
<text x="128.48" y="187.30" font-size="6.5" text-anchor="middle" fill="#333">15</text>
<text x="151.24" y="187.30" font-size="6.5" text-anchor="middle" fill="#333">10</text>
<text x="174.00" y="187.30" font-size="6.5" text-anchor="middle" fill="#333">4</text>
<text x="196.76" y="187.30" font-size="6.5" text-anchor="middle" fill="#333">0</text>
<text x="219.52" y="187.30" font-size="6.5" text-anchor="middle" fill="#333">0</text>
<text x="242.28" y="187.30" font-size="6.5" text-anchor="middle" fill="#333">0</text>
<line x1="60.20" y1="191.4" x2="60.20" y2="194.40" stroke="#1e1e1e" stroke-width="1"/>
<text x="60.20" y="204.60" font-size="6.5" text-anchor="middle" fill="#333">0</text>
<line x1="82.96" y1="191.4" x2="82.96" y2="194.40" stroke="#1e1e1e" stroke-width="1"/>
<text x="82.96" y="204.60" font-size="6.5" text-anchor="middle" fill="#333">10</text>
<line x1="105.72" y1="191.4" x2="105.72" y2="194.40" stroke="#1e1e1e" stroke-width="1"/>
<text x="105.72" y="204.60" font-size="6.5" text-anchor="middle" fill="#333">20</text>
<line x1="128.48" y1="191.4" x2="128.48" y2="194.40" stroke="#1e1e1e" stroke-width="1"/>
<text x="128.48" y="204.60" font-size="6.5" text-anchor="middle" fill="#333">30</text>
<line x1="151.24" y1="191.4" x2="151.24" y2="194.40" stroke="#1e1e1e" stroke-width="1"/>
<text x="151.24" y="204.60" font-size="6.5" text-anchor="middle" fill="#333">40</text>
<line x1="174.00" y1="191.4" x2="174.00" y2="194.40" stroke="#1e1e1e" stroke-width="1"/>
<text x="174.00" y="204.60" font-size="6.5" text-anchor="middle" fill="#333">50</text>
<line x1="196.76" y1="191.4" x2="196.76" y2="194.40" stroke="#1e1e1e" stroke-width="1"/>
<text x="196.76" y="204.60" font-size="6.5" text-anchor="middle" fill="#333">60</text>
<line x1="219.52" y1="191.4" x2="219.52" y2="194.40" stroke="#1e1e1e" stroke-width="1"/>
<text x="219.52" y="204.60" font-size="6.5" text-anchor="middle" fill="#333">70</text>
<line x1="242.28" y1="191.4" x2="242.28" y2="194.40" stroke="#1e1e1e" stroke-width="1"/>
<text x="242.28" y="204.60" font-size="6.5" text-anchor="middle" fill="#333">80</text>
<text x="148.8" y="216.9" font-size="8.6" text-anchor="middle" textLength="39.8" lengthAdjust="spacingAndGlyphs" fill="#333" stroke="#333" stroke-width="0.2">Time (months)</text>
</g>
</svg>
<div class="frame"></div>
</body></html>
